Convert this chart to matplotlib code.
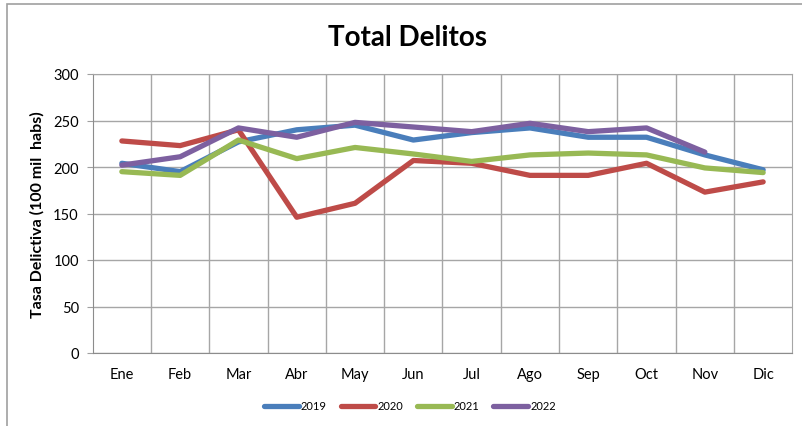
import matplotlib
matplotlib.use("Agg")
import matplotlib.pyplot as plt
from matplotlib.patches import Rectangle

months = ["Ene", "Feb", "Mar", "Abr", "May", "Jun", "Jul", "Ago", "Sep", "Oct", "Nov", "Dic"]
s2019 = [204, 195, 227, 240, 245, 229, 237, 242, 232, 232, 213, 197]
s2020 = [228, 223, 240, 146, 161, 207, 204, 191, 191, 204, 173, 184]
s2021 = [195, 191, 229, 209, 221, 214, 206, 213, 215, 213, 199, 194]
s2022 = [202, 211, 242, 232, 248, 243, 238, 247, 238, 242, 216]
labels = ["2019", "2020", "2021", "2022"]
colors = ["#4A7EBB", "#BE4B48", "#98B954", "#7D60A0"]

plt.rcParams['font.family'] = ['Lato', 'DejaVu Sans']

fig = plt.figure(figsize=(8.02, 4.27), dpi=100)
fig.patches.append(Rectangle((7/802, -0.1), 1.2, (427-5)/427 + 0.1, transform=fig.transFigure,
                             fill=False, edgecolor="#A0A0A0", linewidth=1.2))
ax = fig.add_axes([92.7/802, (427-354)/427, (792.3-92.7)/802, (354-75)/427])

x = list(range(len(months)))
for data, lab, c in zip([s2019, s2020, s2021, s2022], labels, colors):
    ax.plot(x[:len(data)], data, color=c, linewidth=3.8, label=lab, solid_capstyle="round")

ax.set_xlim(-0.5, 11.5)
ax.set_ylim(0, 300)
ax.set_yticks(range(0, 301, 50))
ax.set_xticks(x)
ax.set_xticklabels(months, fontsize=10.5)
ax.set_xticks([i + 0.5 for i in range(11)], minor=True)
ax.tick_params(axis="x", which="both", length=0, pad=10)
ax.tick_params(axis="y", length=4, color="#A0A0A0", labelsize=10.5, pad=6)
ax.grid(axis="y", color="#A6A6A6", linewidth=1.0)
ax.grid(axis="x", which="minor", color="#A6A6A6", linewidth=1.0)
ax.set_axisbelow(True)
for side in ["top", "right"]:
    ax.spines[side].set_color("#A6A6A6")
for side in ["left", "bottom"]:
    ax.spines[side].set_color("#8C8C8C")

ax.set_ylabel("Tasa Delictiva (100 mil  habs)", fontsize=11.5, fontweight="bold", labelpad=6)
fig.text(408/802, 1 - 38/427, "Total Delitos", ha="center", va="center", fontsize=20, fontweight="bold")

leg = fig.legend(loc="center", bbox_to_anchor=(410/802, 1 - 407/427), ncol=4, frameon=False,
                 fontsize=8, handlelength=3.1, handletextpad=0.2, columnspacing=1.25)

fig.savefig("out.png", dpi=100)
